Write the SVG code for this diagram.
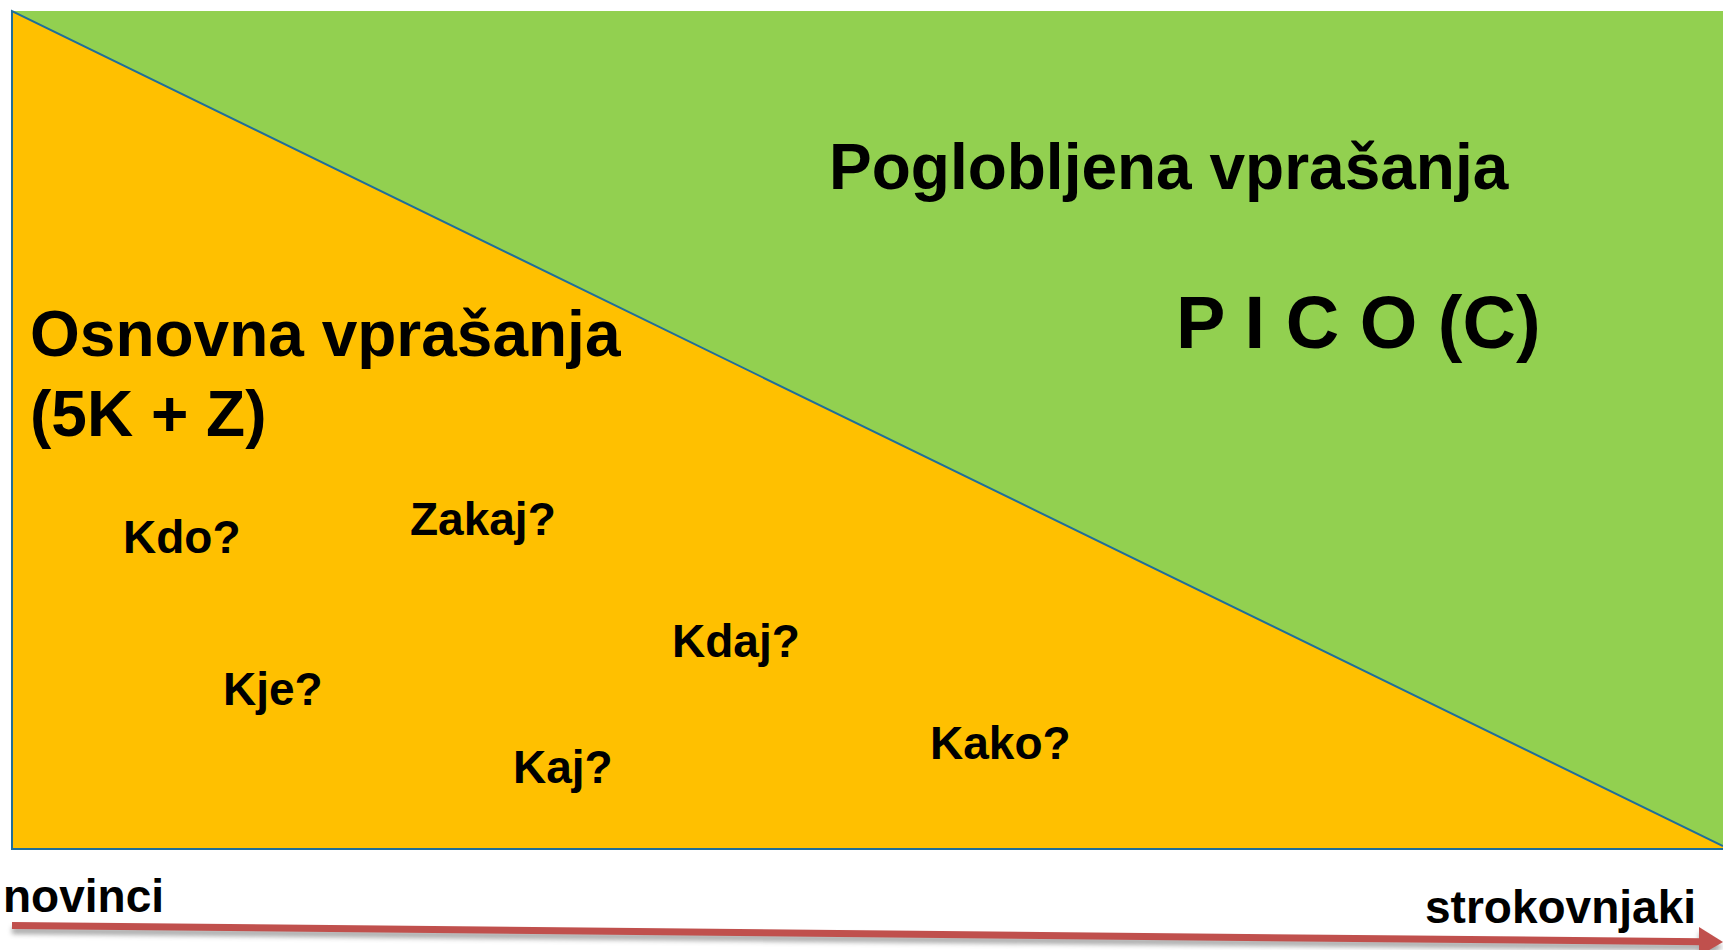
<svg xmlns="http://www.w3.org/2000/svg" width="1723" height="950" viewBox="0 0 1723 950">
<style>
text{font-family:"Liberation Sans",Arial,sans-serif;font-weight:bold;fill:#000}
.big{font-size:64px}
.pico{font-size:74px}
.q{font-size:46px}
</style>
<defs>
<filter id="sh" x="-5%" y="-100%" width="110%" height="400%">
<feGaussianBlur stdDeviation="2.5"/>
</filter>
</defs>
<rect width="1723" height="950" fill="#fff"/>
<g id="expert-area">
<rect x="12" y="11" width="1711" height="838" fill="#92D050"/>
</g>
<g id="basic-area">
<polygon points="12,11 1723,846 1723,849 12,849" fill="#FFC000"/>
<polyline points="1723,846 12,11 12,849 1723,849" fill="none" stroke="#1F6E9A" stroke-width="2"/>
</g>
<g id="label-deep">
<text class="big" x="829" y="189">Poglobljena vprašanja</text>
</g>
<g id="label-pico">
<text class="pico" x="1176" y="348">P I C O (C)</text>
</g>
<g id="label-basic">
<text class="big" x="30" y="356">Osnovna vprašanja</text>
<text class="big" x="30" y="436">(5K + Z)</text>
</g>
<g id="questions">
<text class="q" x="123" y="553">Kdo?</text>
<text class="q" x="410" y="535">Zakaj?</text>
<text class="q" x="223" y="705">Kje?</text>
<text class="q" x="672" y="657">Kdaj?</text>
<text class="q" x="513" y="783">Kaj?</text>
<text class="q" x="930" y="759">Kako?</text>
</g>
<g id="axis-labels">
<text class="q" x="3" y="912">novinci</text>
<text class="q" x="1425" y="923">strokovnjaki</text>
</g>
<g id="connectors">
<g filter="url(#sh)" opacity="0.5" transform="translate(0,5)">
<line x1="12" y1="925.5" x2="1702" y2="941.8" stroke="#555" stroke-width="7"/>
<polygon points="1699,927 1723,942 1699,956" fill="#555"/>
</g>
<line x1="12" y1="925.5" x2="1702" y2="941.8" stroke="#C0504D" stroke-width="7"/>
<polygon points="1699,927 1723,942 1699,956" fill="#C0504D"/>
</g>
</svg>
